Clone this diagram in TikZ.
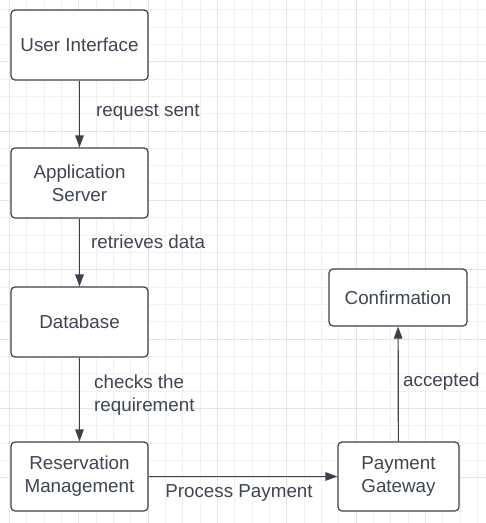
\documentclass[tikz,border=0pt]{standalone}
\usepackage{fontspec}
\setmainfont{Liberation Sans}
\usetikzlibrary{arrows.meta}
\definecolor{ink}{HTML}{3A414A}
\definecolor{txt}{HTML}{3F4652}
\definecolor{gridminor}{HTML}{F1F1F1}
\definecolor{gridmajor}{HTML}{E4E4E4}
\tikzset{
  block/.style={draw=ink, line width=1.2pt, rounded corners=4pt, fill=white,
    text=txt, align=center, inner sep=0pt,
    font=\fontsize{18.8}{23}\selectfont},
  flow/.style={draw=ink, line width=1.2pt, -{Triangle[length=12pt,width=8.5pt]}},
  tag/.style={text=txt, align=left, inner sep=0pt,
    font=\fontsize{18.8}{23}\selectfont},
}
\begin{document}
\begin{tikzpicture}[x=1pt,y=-1pt]
  \useasboundingbox (0,0) rectangle (486,523);
  \fill[white] (0,0) rectangle (486,523);
  % background grid: fine lines every 17.33, stronger every fourth
  \foreach \i in {0,...,28} {
    \pgfmathsetmacro{\gx}{9.33+17.333*\i}
    \pgfmathsetmacro{\gy}{-7.67+17.333*\i}
    \draw[gridminor, line width=0.8pt] (\gx,0) -- (\gx,523);
    \draw[gridminor, line width=0.8pt] (0,\gy) -- (486,\gy);
  }
  \foreach \i in {0,...,7} {
    \pgfmathsetmacro{\gx}{9.33+69.333*\i}
    \pgfmathsetmacro{\gy}{-7.67+69.333*\i}
    \draw[gridmajor, line width=0.9pt] (\gx,0) -- (\gx,523);
    \draw[gridmajor, line width=0.9pt] (0,\gy) -- (486,\gy);
  }

  % process boxes
  \node[block, minimum width=137pt, minimum height=70pt] (ui) at (79.5,45) {User Interface};
  \node[block, minimum width=137pt, minimum height=70pt] (as) at (79.5,183) {Application\\Server};
  \node[block, minimum width=137pt, minimum height=70pt] (db) at (79.5,322) {Database};
  \node[block, minimum width=137pt, minimum height=69pt] (rm) at (79.5,476.5) {Reservation\\Management};
  \node[block, minimum width=121pt, minimum height=69pt] (pg) at (398.5,476.5) {Payment\\Gateway};
  \node[block, minimum width=138pt, minimum height=57pt] (cf) at (398,297.5) {Confirmation};

  % connectors
  \draw[flow] (ui) -- (as);
  \draw[flow] (as) -- (db);
  \draw[flow] (db) -- (rm);
  \draw[flow] (rm) -- (pg);
  \draw[flow] (pg) -- (cf);

  % connector labels
  \node[tag, anchor=west] (l1) at (96,112) {request sent};
  \node[tag, anchor=west] (l2) at (91,241.5) {retrieves data};
  \node[tag, anchor=west] (l3) at (94,395.5) {checks the\\requirement};
  \node[tag] (l4) at (239,493) {Process Payment};
  \node[tag, anchor=west] (l5) at (403,381.5) {accepted};
\end{tikzpicture}
\end{document}
